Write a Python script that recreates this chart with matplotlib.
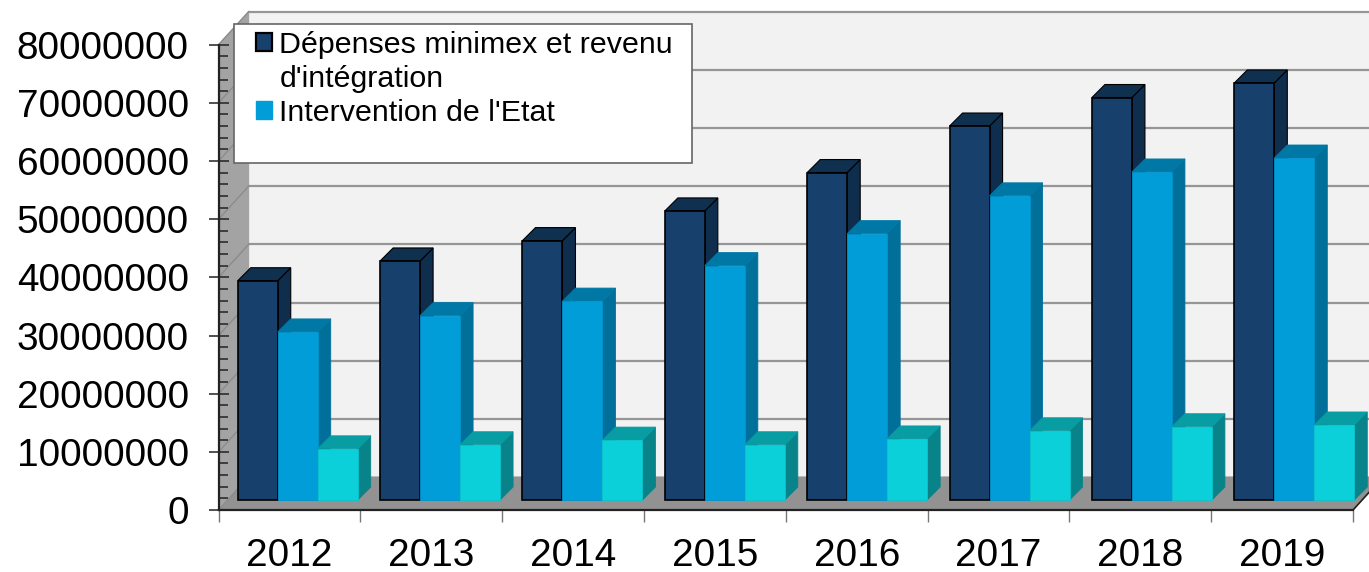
import numpy as np
import matplotlib
matplotlib.use('Agg')
import matplotlib.pyplot as plt
from matplotlib.patches import Polygon, Patch, Rectangle
from matplotlib.ticker import MultipleLocator, FixedLocator, NullFormatter

plt.rcParams['font.family'] = ['Liberation Sans', 'DejaVu Sans']

# donnees
years = ['2012', '2013', '2014', '2015', '2016', '2017', '2018', '2019']
minimex = [37700000, 41100000, 44600000, 49700000, 56300000, 64300000, 69200000, 71700000]
etat = [28900000, 31700000, 34200000, 40300000, 45800000, 52300000, 56400000, 58800000]
reste = [8800000, 9500000, 10300000, 9500000, 10500000, 11900000, 12600000, 12900000]
legend_labels = ["Dépenses minimex et revenu", "d'intégration", "Intervention de l'Etat", ' ']

W, H = 1369, 572
LEFT, RIGHT, TOP, BOTTOM = 218.6, 1353, 44.7, 510
fig = plt.figure(figsize=(W / 100, H / 100), dpi=100)
ax = fig.add_axes([LEFT / W, (H - BOTTOM) / H, (RIGHT - LEFT) / W, (BOTTOM - TOP) / H])
ax.set_xlim(0, 8)
ax.set_ylim(0, 80000000)
ax.patch.set_visible(False)

# conversion pixels -> donnees pour la perspective
px_x = 8 / (RIGHT - LEFT)
px_y = 80000000 / (BOTTOM - TOP)
wall_dx, wall_dy = 30 * px_x, 33 * px_y
depth_dx, depth_dy = 13 * px_x, 13 * px_y
base = 10 * px_y


def poly(points, color, edge=None, lw=0.8, z=1):
    ax.add_patch(Polygon(points, closed=True, facecolor=color, edgecolor=edge or color,
                         linewidth=lw, clip_on=False, zorder=z))


# murs et sol
poly([(wall_dx, wall_dy), (8 + wall_dx, wall_dy), (8 + wall_dx, 80000000 + wall_dy),
      (wall_dx, 80000000 + wall_dy)], '#f2f2f2', z=0.5)
poly([(0, 0), (wall_dx, wall_dy), (wall_dx, 80000000 + wall_dy), (0, 80000000)], '#a3a3a3', z=0.6)
poly([(0, 0), (8, 0), (8 + wall_dx, wall_dy), (wall_dx, wall_dy)], '#929292', z=0.6)

for v in np.arange(0, 80000001, 10000000):
    if v > 0:
        ax.plot([wall_dx, 8 + wall_dx], [v + wall_dy, v + wall_dy], color='#969696', lw=1.6,
                clip_on=False, zorder=0.7)
    ax.plot([0, wall_dx], [v, v + wall_dy], color='#8c8c8c', lw=1.0, clip_on=False, zorder=0.7)
ax.plot([8, 8 + wall_dx], [0, wall_dy], color='#222222', lw=1.2, clip_on=False, zorder=0.7)

# barres : face, cote, dessus
series = [
    (minimex, '#17406d', '#0f2d4d', '#10304f', 'black', 1.2),
    (etat, '#009dd9', '#00709a', '#0078a6', '#0094cc', 0.6),
    (reste, '#0bd0d9', '#08838a', '#089ca3', '#0ac4cc', 0.6),
]
start = 0.135
pitch = 1.004
bar_w = 0.282
for i in range(len(years)):
    for s, (vals, front, side, top, edge, lw) in enumerate(series):
        x0 = i * pitch + start + s * bar_w
        x1 = x0 + bar_w
        y1 = base + vals[i]
        z = 2 + i + s * 0.1
        poly([(x1, base), (x1 + depth_dx, base + depth_dy), (x1 + depth_dx, y1 + depth_dy), (x1, y1)],
             side, edge='black' if s == 0 else side, lw=0.8 if s == 0 else lw, z=z)
        poly([(x0, y1), (x1, y1), (x1 + depth_dx, y1 + depth_dy), (x0 + depth_dx, y1 + depth_dy)],
             top, edge='black' if s == 0 else top, lw=0.8 if s == 0 else lw, z=z)
        ax.bar(x0, vals[i], bottom=base, width=bar_w, align='edge', color=front, edgecolor=edge,
               linewidth=lw, clip_on=False, zorder=z + 0.01)

# axes
for name in ['top', 'right']:
    ax.spines[name].set_visible(False)
ax.spines['left'].set_linewidth(1.6)
ax.spines['left'].set_color('#222222')
ax.spines['bottom'].set_linewidth(1.6)
ax.spines['bottom'].set_color('#222222')
for sp in ax.spines.values():
    sp.set_zorder(20)

ax.yaxis.set_major_locator(MultipleLocator(10000000))
ax.yaxis.set_minor_locator(MultipleLocator(2000000))
ax.ticklabel_format(axis='y', style='plain')
ax.tick_params(axis='y', which='major', direction='inout', length=14.5, width=1.1, color='#222222',
               labelsize=27.9, pad=14.3)
ax.tick_params(axis='y', which='minor', direction='in', length=6.5, width=1.1, color='#222222')

ax.xaxis.set_major_locator(FixedLocator(range(9)))
ax.xaxis.set_major_formatter(NullFormatter())
ax.xaxis.set_minor_locator(FixedLocator(np.arange(len(years)) + 0.5))
ax.set_xticklabels(years, minor=True)
ax.tick_params(axis='x', which='major', direction='out', length=8.6, width=1.0, color='#777777')
ax.tick_params(axis='x', which='minor', length=0, labelsize=27.9, pad=20)

# legende : cadre a part, la 2e ligne du libelle n'a pas de symbole
ax.add_patch(Rectangle((234 / W, (H - 163) / H), 458 / W, 139 / H, transform=fig.transFigure,
                       facecolor='white', edgecolor='#666666', linewidth=1.2, clip_on=False,
                       zorder=25))
empty = Patch(facecolor='none', edgecolor='none')
handles = [Patch(facecolor='#17406d', edgecolor='black', linewidth=1.6), empty,
           Patch(facecolor='#009dd9', edgecolor='#009dd9'), empty]
leg = ax.legend(handles, legend_labels, loc='upper left',
                bbox_to_anchor=(256 / W, (H - 31) / H), bbox_transform=fig.transFigure,
                fontsize=21.9, frameon=False, borderaxespad=0, borderpad=0, handlelength=0.53,
                handleheight=0.53, handletextpad=0.24, labelspacing=0.19)
leg.set_zorder(30)

fig.savefig('out.png', dpi=100)
